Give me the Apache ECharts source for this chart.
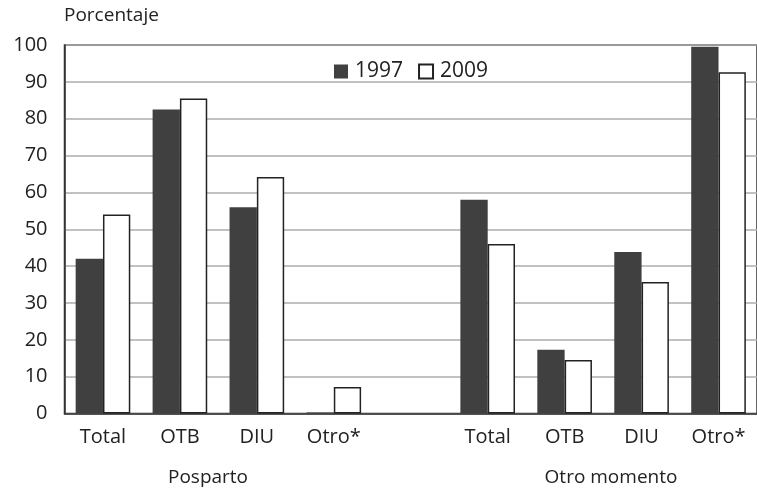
<!DOCTYPE html>
<html>
<head>
<meta charset="utf-8">
<style>
  html, body { margin: 0; padding: 0; background: #fff; }
  #chart { width: 757px; height: 489px; }
</style>
<script src="https://cdn.jsdelivr.net/npm/echarts@6/dist/echarts.min.js"></script>
</head>
<body>
<div id="chart"></div>
<script>
// Method categories, two groups separated by an empty slot
const categories = ['Total', 'OTB', 'DIU', 'Otro*', '', 'Total', 'OTB', 'DIU', 'Otro*'];
const groupLabels = ['Posparto', 'Otro momento'];
const values1997 = [42, 82.5, 56, 0.3, '-', 58, 17.3, 43.8, 99.5];
const values2009 = [54, 85.5, 64.2, 7.2, '-', 46, 14.5, 35.7, 92.6];
const yTicks = [0, 10, 20, 30, 40, 50, 60, 70, 80, 90, 100];

const FONT = '"Open Sans", "Noto Sans", sans-serif';
const chart = echarts.init(document.getElementById('chart'), null, { renderer: 'canvas' });

chart.setOption({
  animation: false,
  textStyle: { fontFamily: FONT, color: '#222' },
  grid: {
    left: 64.5, top: 45, width: 702, height: 368.5,
    show: true, borderColor: '#333', borderWidth: 1.5, backgroundColor: 'transparent'
  },
  legend: {
    left: 329, top: 56,
    icon: 'rect',
    itemWidth: 14, itemHeight: 14, itemGap: 15,
    textStyle: { fontFamily: FONT, fontSize: 21, color: '#222', padding: [0, 0, 0, 2] },
    data: ['1997', '2009']
  },
  xAxis: {
    type: 'category',
    data: categories,
    axisLine: { lineStyle: { color: '#333', width: 1.5 } },
    axisTick: { show: false },
    axisLabel: { fontFamily: FONT, fontSize: 20, color: '#222', margin: 14, interval: 0 }
  },
  yAxis: {
    type: 'value',
    min: yTicks[0], max: yTicks[yTicks.length - 1], interval: 10,
    axisLine: { show: true, lineStyle: { color: '#333', width: 1.5 } },
    axisTick: { show: false },
    axisLabel: { fontFamily: FONT, fontSize: 20, color: '#222', margin: 17 },
    splitLine: { lineStyle: { color: '#adadad', width: 1.5 } }
  },
  series: [
    {
      name: '1997', type: 'bar', data: values1997,
      barGap: '0%', barCategoryGap: '29%',
      itemStyle: { color: '#404040', borderColor: '#404040', borderWidth: 0 }
    },
    {
      name: '2009', type: 'bar', data: values2009,
      itemStyle: { color: '#ffffff', borderColor: '#222', borderWidth: 1.5 }
    }
  ],
  graphic: [
    {
      type: 'text', left: 64, top: 6,
      style: { text: 'Porcentaje', font: '19px ' + FONT, fill: '#222' }
    },
    {
      type: 'text', x: 208, y: 478,
      style: { text: groupLabels[0], font: '19px ' + FONT, fill: '#222', align: 'center', verticalAlign: 'middle' }
    },
    {
      type: 'text', x: 611, y: 478,
      style: { text: groupLabels[1], font: '19px ' + FONT, fill: '#222', align: 'center', verticalAlign: 'middle' }
    }
  ]
});
</script>
</body>
</html>
